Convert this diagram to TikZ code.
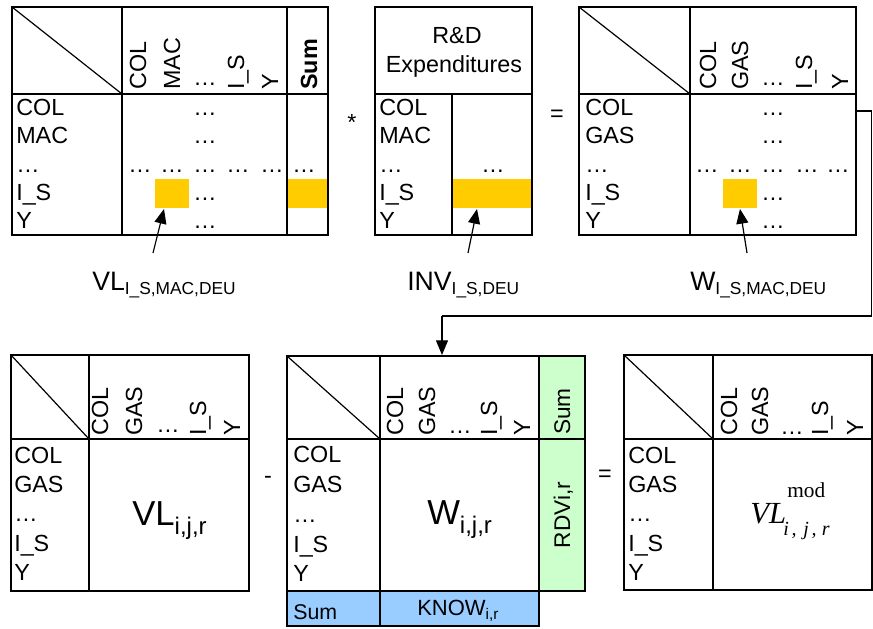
\documentclass[tikz,border=0pt]{standalone}
\usepackage{fontspec}
\setmainfont{Liberation Sans}
\newfontfamily\serifTNR{Liberation Serif}
\usetikzlibrary{arrows.meta}
\definecolor{hlorange}{HTML}{FFCC00}
\definecolor{hlgreen}{HTML}{CCFFCC}
\definecolor{hlblue}{HTML}{99CCFF}
\begin{document}
\begin{tikzpicture}[x=0.75pt,y=-0.75pt,
  grid/.style={line width=1.1pt},
  diag/.style={line width=0.9pt},
  txt/.style={inner sep=0pt,font=\fontsize{17.5}{21}\selectfont,anchor=base west},
  ctxt/.style={inner sep=0pt,font=\fontsize{17.5}{21}\selectfont,anchor=base},
  vtxt/.style={inner sep=0pt,font=\fontsize{17.5}{21}\selectfont,anchor=base west,rotate=90},
  ptr/.style={line width=0.9pt,-{Triangle[length=11pt,width=9pt]}},
  conn/.style={line width=0.9pt},
  hl/.style={fill=hlorange}]
\useasboundingbox (0,0) rectangle (873,628);

% ---------------- top-left matrix ----------------
\fill[hl] (155,179) rectangle (189,208);
\fill[hl] (287,179) rectangle (328,208);
\draw[grid] (12,7) rectangle (328,235);
\draw[grid] (122,7) -- (122,235) (287,7) -- (287,235) (12,94) -- (328,94);
\draw[diag] (12,7) -- (122,94);
\foreach \t/\y [count=\i] in {COL/115, MAC/143.5, …/172, I\_S/200, Y/228.5}
  \node[txt] (tlr\i) at (16,\y) {\t};
\foreach \t/\x [count=\i] in {COL/146, MAC/180, I\_S/244, Y/278}
  \node[vtxt] (tlc\i) at (\x,90) {\t};
\node[ctxt] (tlcd) at (205,85) {…};
\node[vtxt,font=\fontsize{17.5}{21}\selectfont\bfseries] (tlsum) at (317,90) {Sum};
\foreach \y [count=\i] in {115,143.5,200,228.5}
  \node[ctxt] (tlb\i) at (205,\y) {…};
\foreach \x [count=\i] in {140,172,205,238,272,304}
  \node[ctxt] (tld\i) at (\x,172) {…};

% ---------------- top-middle matrix ----------------
\fill[hl] (452,179) rectangle (532,208);
\draw[grid] (375,7) rectangle (532,235);
\draw[grid] (452,94) -- (452,235) (375,94) -- (532,94);
\node[ctxt] (rd1) at (457,43) {R\&D};
\node[ctxt] (rd2) at (454,72) {Expenditures};
\foreach \t/\y [count=\i] in {COL/115, MAC/143.5, …/172, I\_S/200, Y/228.5}
  \node[txt] (tmr\i) at (379,\y) {\t};
\node[ctxt] (tmd) at (493,172) {…};

% ---------------- top-right matrix ----------------
\fill[hl] (723,179) rectangle (757,208);
\draw[grid] (579,7) rectangle (856,235);
\draw[grid] (690,7) -- (690,235) (579,94) -- (856,94);
\draw[diag] (579,7) -- (690,94);
\foreach \t/\y [count=\i] in {COL/115, GAS/143.5, …/172, I\_S/200, Y/228.5}
  \node[txt] (trr\i) at (585,\y) {\t};
\foreach \t/\x [count=\i] in {COL/716, GAS/748, I\_S/812, Y/848}
  \node[vtxt] (trc\i) at (\x,90) {\t};
\node[ctxt] (trcd) at (773,85) {…};
\foreach \y [count=\i] in {115,143.5,200,228.5}
  \node[ctxt] (trb\i) at (773,\y) {…};
\foreach \x [count=\i] in {707,740,773,807,838}
  \node[ctxt] (trd\i) at (\x,172) {…};

% operators
\node[ctxt] (op1) at (352,130) {*};
\node[ctxt] (op2) at (557,121) {=};
\node[ctxt] (op3) at (268,483) {-};
\node[ctxt] (op4) at (605,481) {=};

% labels under top matrices
\node[txt,font=\fontsize{20}{24}\selectfont] (lab1) at (92,290)
  {VL\raisebox{-3pt}{\fontsize{13}{13}\selectfont I\_S,MAC,DEU}};
\node[txt,font=\fontsize{20}{24}\selectfont] (lab2) at (407,290)
  {INV\raisebox{-3pt}{\fontsize{13}{13}\selectfont I\_S,DEU}};
\node[txt,font=\fontsize{20}{24}\selectfont] (lab3) at (690,290)
  {W\raisebox{-3pt}{\fontsize{13}{13}\selectfont I\_S,MAC,DEU}};
\coordinate (a1s) at (153,253); \coordinate (a1e) at (164,209);
\coordinate (a2s) at (468,253); \coordinate (a2e) at (477,209);
\coordinate (a3s) at (747,253); \coordinate (a3e) at (740,209);
\draw[ptr] (a1s) -- (a1e);
\draw[ptr] (a2s) -- (a2e);
\draw[ptr] (a3s) -- (a3e);

% connector from W to bottom W
\coordinate (c0) at (856,111);
\coordinate (c1) at (871.5,111);
\coordinate (c2) at (871.5,316);
\coordinate (c3) at (442,316);
\coordinate (c4) at (442,355);
\draw[conn] (c0) -- (c1) -- (c2) -- (c3);
\draw[ptr] (c3) -- (c4);

% ---------------- bottom-left matrix ----------------
\draw[grid] (11,355) rectangle (249,591);
\draw[grid] (89,355) -- (89,591) (11,439) -- (249,439);
\draw[diag] (11,355) -- (89,439);
\foreach \t/\y [count=\i] in {COL/463, GAS/492, …/521, I\_S/551, Y/580}
  \node[txt] (blr\i) at (14,\y) {\t};
\foreach \t/\x [count=\i] in {COL/108, GAS/142, I\_S/206, Y/240}
  \node[vtxt] (blc\i) at (\x,436) {\t};
\node[ctxt] (blcd) at (168,432) {…};
\node[txt,font=\fontsize{26}{30}\selectfont] (vl) at (132,525)
  {VL\raisebox{-7pt}{\fontsize{18}{18}\selectfont i,j,r}};

% ---------------- bottom-middle matrix ----------------
\fill[hlgreen] (539,356) rectangle (585,591);
\fill[hlblue] (287,591) rectangle (539,626);
\draw[grid] (287,356) rectangle (585,591);
\draw[grid] (539,356) -- (539,591) (380,356) -- (380,626) (287,439) -- (585,439);
\draw[grid] (287,591) rectangle (539,626);
\draw[diag] (287,356) -- (380,439);
\foreach \t/\y [count=\i] in {COL/462, GAS/492, …/522, I\_S/552, Y/581.5}
  \node[txt] (bmr\i) at (293,\y) {\t};
\foreach \t/\x [count=\i] in {COL/403, GAS/435, I\_S/497, Y/530}
  \node[vtxt] (bmc\i) at (\x,436) {\t};
\node[ctxt] (bmcd) at (460,433) {…};
\node[vtxt,font=\fontsize{17}{20}\selectfont] (gsum) at (570,435) {Sum};
\node[ctxt,rotate=90,font=\fontsize{17}{20}\selectfont] (rdv) at (570,515) {RDVi,r};
\node[txt,font=\fontsize{26}{30}\selectfont] (w) at (427,524)
  {W\raisebox{-7pt}{\fontsize{18}{18}\selectfont i,j,r}};
\node[txt,font=\fontsize{16}{19}\selectfont] (bsum) at (293,619) {Sum};
\node[txt,font=\fontsize{16.5}{19}\selectfont] (know) at (417,615)
  {KNOW\raisebox{-3pt}{\fontsize{11.5}{12}\selectfont i,r}};

% ---------------- bottom-right matrix ----------------
\draw[grid] (624,355) rectangle (872,590);
\draw[grid] (713,355) -- (713,590) (624,439) -- (872,439);
\draw[diag] (624,355) -- (713,439);
\foreach \t/\y [count=\i] in {COL/463, GAS/492, …/521, I\_S/551, Y/580}
  \node[txt] (brr\i) at (628,\y) {\t};
\foreach \t/\x [count=\i] in {COL/737, GAS/768, I\_S/828, Y/863}
  \node[vtxt] (brc\i) at (\x,436) {\t};
\node[ctxt] (brcd) at (792,434) {…};
\node[txt,font=\serifTNR\fontsize{23}{28}\selectfont] (vlmod) at (750,523)
  {\itshape VL\rlap{\kern1pt\raisebox{19pt}{\upshape\fontsize{16}{16}\selectfont mod}}\kern-2pt\raisebox{-9pt}{\fontsize{15}{15}\selectfont i\kern2pt,\kern5pt j\kern2pt,\kern4pt r}};
\end{tikzpicture}
\end{document}
